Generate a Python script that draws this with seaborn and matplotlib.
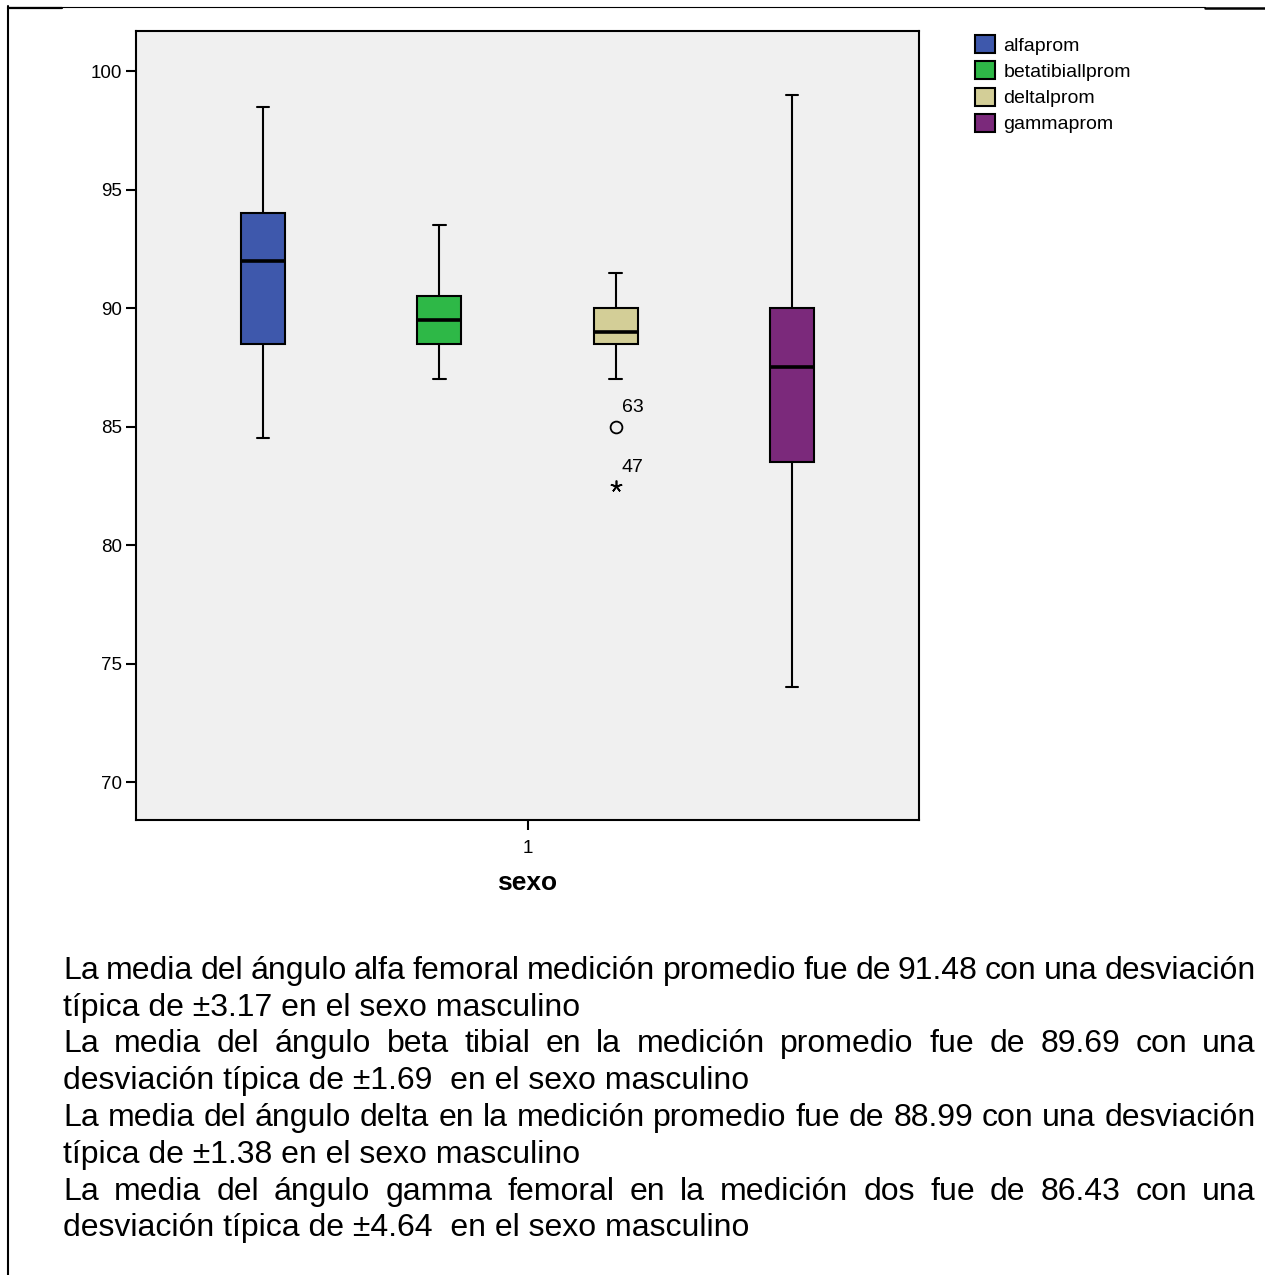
import numpy as np
import pandas as pd
import matplotlib
matplotlib.use("Agg")
import matplotlib.pyplot as plt
from matplotlib.lines import Line2D
import seaborn as sns

# ---------------- data ----------------
sexo_values = [1]
series_names = ["alfaprom", "betatibiallprom", "deltalprom", "gammaprom"]
series_colors = ["#3e58ac", "#2eb847", "#d3ce97", "#7b297b"]
alfaprom = [84.5, 88.5, 92.0, 94.0, 98.5]
betatibiallprom = [87.0, 88.5, 89.5, 90.5, 93.5]
deltalprom = [82.5, 85.0, 87.0, 88.5, 88.5, 89.0, 89.0, 89.0, 89.5, 90.0, 90.5, 91.0, 91.5]
gammaprom = [74.0, 83.5, 87.5, 90.0, 99.0]
case_ids = {"deltalprom": {85.0: "63", 82.5: "47"}}
y_ticks = [70, 75, 80, 85, 90, 95, 100]
x_label = "sexo"

text_lines = [
    ("La media del ángulo alfa femoral medición promedio fue de 91.48 con una desviación", True),
    ("típica de ±3.17 en el sexo masculino", False),
    ("La media del ángulo beta tibial en la medición promedio fue de 89.69 con una", True),
    ("desviación típica de ±1.69  en el sexo masculino", False),
    ("La media del ángulo delta en la medición promedio fue de 88.99 con una desviación", True),
    ("típica de ±1.38 en el sexo masculino", False),
    ("La media del ángulo gamma femoral en la medición dos fue de 86.43 con una", True),
    ("desviación típica de ±4.64  en el sexo masculino", False),
]

series_data = [alfaprom, betatibiallprom, deltalprom, gammaprom]
df = pd.DataFrame({
    "sexo": np.concatenate([[sexo_values[0]] * len(s) for s in series_data]),
    "variable": np.concatenate([[n] * len(s) for n, s in zip(series_names, series_data)]),
    "valor": np.concatenate(series_data),
})

# ---------------- figure ----------------
sns.set_style("white")
plt.rcParams["font.family"] = ["Liberation Sans", "DejaVu Sans"]
plt.rcParams["text.color"] = "black"
plt.rcParams["axes.labelcolor"] = "black"
plt.rcParams["xtick.color"] = "black"
plt.rcParams["ytick.color"] = "black"

W, H = 1265, 1275
fig = plt.figure(figsize=(W / 100, H / 100), dpi=100, facecolor="white")

def fx(px):
    return px / W

def fy(py):
    return 1 - py / H

ax = fig.add_axes([fx(136), fy(820), fx(919) - fx(136), fy(31) - fy(820)])
ax.set_facecolor("#f0f0f0")

sns.boxplot(
    data=df, x="sexo", y="valor", hue="variable", hue_order=series_names,
    palette=series_colors, saturation=1, width=0.9, gap=0.75,
    linewidth=1.5, linecolor="black", showfliers=False,
    medianprops={"linewidth": 2.6}, ax=ax,
)

# shrink caps to SPSS-like short caps
box_w = None
for p in ax.patches:
    ext = p.get_path().get_extents()
    box_w = ext.width
    break
for ln in ax.lines:
    xd = np.asarray(ln.get_xdata(), dtype=float)
    yd = np.asarray(ln.get_ydata(), dtype=float)
    if len(xd) == 2 and yd[0] == yd[1] and box_w is not None:
        span = abs(xd[1] - xd[0])
        if abs(span - 0.5 * box_w) < 1e-6:
            c = xd.mean()
            ln.set_xdata([c - 0.14 * box_w, c + 0.14 * box_w])

ax.set_ylim(68.4, 101.69)
ax.set_xlim(-0.5, 0.5)
ax.set_yticks(y_ticks)
ax.set_yticklabels([str(t) for t in y_ticks])
ax.set_xticks([0])
ax.set_xticklabels([str(sexo_values[0])])
ax.set_ylabel("")
ax.set_xlabel(x_label, fontsize=19, fontweight="bold", labelpad=10, color="black")
ax.tick_params(axis="both", which="major", direction="out", length=7, width=1.5,
               color="black", labelsize=13.5, labelcolor="black", pad=3)
ax.tick_params(axis="x", pad=7.5)
ax.tick_params(left=True, bottom=True)
for sp in ax.spines.values():
    sp.set_visible(True)
    sp.set_color("black")
    sp.set_linewidth(1.5)

# outliers (circle = outlier, star = extreme)
box_centers = []
for p in ax.patches:
    ext = p.get_path().get_extents()
    box_centers.append((ext.x0 + ext.x1) / 2)
box_centers = sorted(box_centers)
for i, (name, vals) in enumerate(zip(series_names, series_data)):
    v = np.asarray(vals)
    q1, q3 = np.percentile(v, [25, 75])
    iqr = q3 - q1
    xc = box_centers[i]
    for val in v:
        if val < q1 - 1.5 * iqr or val > q3 + 1.5 * iqr:
            extreme = val < q1 - 3 * iqr or val > q3 + 3 * iqr
            if extreme:
                ax.plot([xc], [val], marker=(5, 2, 0), markersize=8.5, color="black",
                        markeredgewidth=1.2, linestyle="none")
            else:
                ax.plot([xc], [val], marker="o", markersize=8.5, markerfacecolor="none",
                        markeredgecolor="black", markeredgewidth=1.3, linestyle="none")
            lab = case_ids.get(name, {}).get(float(val), "")
            ax.annotate(lab, (xc, val), xytext=(4.5, 13.5), textcoords="offset points",
                        ha="left", va="center", fontsize=14, color="black")

# legend
sns.move_legend(ax, "upper left", bbox_to_anchor=(fx(975), fy(35)),
                bbox_transform=fig.transFigure, title=None, frameon=False,
                fontsize=14, handlelength=1.05, handleheight=1.05,
                handletextpad=0.4, labelspacing=0.34, borderpad=0, borderaxespad=0)
for t in ax.get_legend().get_texts():
    t.set_color("black")

# document border lines
fig.add_artist(Line2D([fx(8), fx(8)], [fy(6), fy(1276)], transform=fig.transFigure,
                      color="black", linewidth=1.5))
fig.add_artist(Line2D([fx(8), fx(1205)], [fy(7), fy(7)], transform=fig.transFigure,
                      color="black", linewidth=0.8))
fig.add_artist(Line2D([fx(8), fx(62)], [fy(7.5), fy(7.5)], transform=fig.transFigure,
                      color="black", linewidth=1.6))
fig.add_artist(Line2D([fx(1205), fx(1266)], [fy(7.5), fy(7.5)], transform=fig.transFigure,
                      color="black", linewidth=1.8))

# justified text block: words of full lines spread across the column;
# baselines kept on whole pixels so all words sit on the same line
renderer = fig.canvas.get_renderer()
x_left, x_right = 63, 1256
base0, step = 979, 36.75
fs = 23
for i, (line, just) in enumerate(text_lines):
    yb = fy(round(base0 + i * step))
    if not just:
        fig.text(fx(x_left), yb, line, fontsize=fs, ha="left", va="baseline", color="black")
        continue
    words = line.split()
    ts, widths = [], []
    for w in words:
        t = fig.text(0, yb, w, fontsize=fs, ha="left", va="baseline", color="black")
        widths.append(t.get_window_extent(renderer).width)
        ts.append(t)
    gap = (x_right - x_left - sum(widths)) / (len(words) - 1)
    x = x_left
    for t, wd in zip(ts, widths):
        t.set_x(fx(x))
        x += wd + gap

fig.savefig("out.png", dpi=100, facecolor="white")
